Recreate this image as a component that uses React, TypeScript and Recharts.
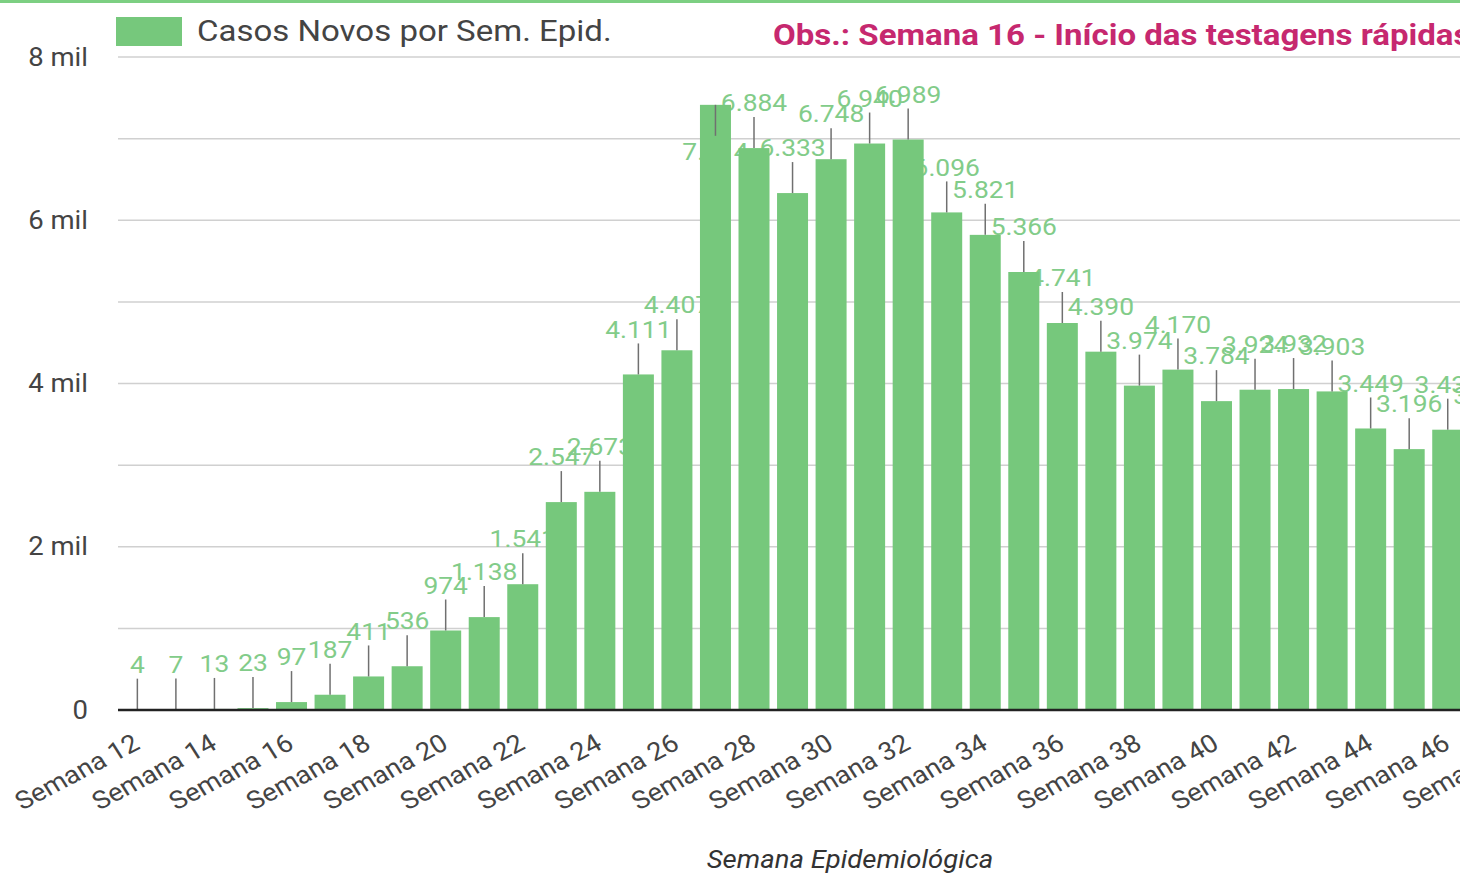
import React from 'react';
import { BarChart, Bar, XAxis, YAxis, CartesianGrid } from 'recharts';

const weeks = [
  'Semana 12', 'Semana 13', 'Semana 14', 'Semana 15', 'Semana 16', 'Semana 17', 'Semana 18',
  'Semana 19', 'Semana 20', 'Semana 21', 'Semana 22', 'Semana 23', 'Semana 24', 'Semana 25',
  'Semana 26', 'Semana 27', 'Semana 28', 'Semana 29', 'Semana 30', 'Semana 31', 'Semana 32',
  'Semana 33', 'Semana 34', 'Semana 35', 'Semana 36', 'Semana 37', 'Semana 38', 'Semana 39',
  'Semana 40', 'Semana 41', 'Semana 42', 'Semana 43', 'Semana 44', 'Semana 45', 'Semana 46',
  'Semana 47', 'Semana 48',
];

const newCases = [
  4, 7, 13, 23, 97, 187, 411,
  536, 974, 1138, 1541, 2547, 2673, 4111,
  4407, 7414, 6884, 6333, 6748, 6940, 6989,
  6096, 5821, 5366, 4741, 4390, 3974, 4170,
  3784, 3924, 3932, 3903, 3449, 3196, 3434,
  3300, 3100,
];

const yTicks = [0, 1000, 2000, 3000, 4000, 5000, 6000, 7000, 8000];

const seriesName = 'Casos Novos por Sem. Epid.';
const noteText = 'Obs.: Semana 16 - Início das testagens rápidas';
const xTitle = 'Semana Epidemiológica';

const data = weeks.map((w, i) => ({ week: w, cases: newCases[i] }));

const FONT = 'Roboto, "Noto Sans", sans-serif';
const BAR_COLOR = '#76c87c';
const LABEL_COLOR = '#82cc89';
const LEADER_COLOR = '#707070';
const PLOT_TOP = 57;
const LABEL_RISE = 45;
const LEADER_LEN = 31;
const SX = 1.1;

const fmt = (v: number) => {
  const s = String(Math.round(v));
  return s.replace(/\B(?=(\d{3})+(?!\d))/g, '.');
};

const yFmt = (v: number) => {
  if (v === 0) return '0';
  if (v % 2000 !== 0) return '';
  return `${v / 1000} mil`;
};

const flipped = (top: number) => top - LABEL_RISE - 12 < PLOT_TOP;

const LabelShape = (props: any) => {
  const { x, y, width, payload } = props;
  const cx = x + width / 2;
  const cy = flipped(y) ? y + LABEL_RISE + 2 : y - LABEL_RISE;
  return (
    <g transform={`translate(${cx},${cy}) scale(${SX},1)`}>
      <text
        x={0}
        y={0}
        textAnchor="middle"
        dominantBaseline="central"
        fontSize={24}
        fontFamily={FONT}
        fill={LABEL_COLOR}
      >
        {fmt(payload.cases)}
      </text>
    </g>
  );
};

const BarShape = (props: any) => {
  const { x, y, width, height, fill } = props;
  const cx = x + width / 2;
  const end = flipped(y) ? y + LEADER_LEN : y - LEADER_LEN;
  return (
    <g>
      <rect x={x} y={y} width={width} height={Math.max(height, 0)} fill={fill} />
      <line x1={cx} y1={y} x2={cx} y2={end} stroke={LEADER_COLOR} strokeWidth={1.5} />
    </g>
  );
};

const XTick = (props: any) => {
  const { x, y, payload } = props;
  return (
    <g transform={`translate(${x + 4},${y + 30}) scale(${SX},1)`}>
      <text
        x={0}
        y={0}
        textAnchor="end"
        transform="rotate(-30)"
        fontSize={25}
        fontFamily={FONT}
        fill="#444"
      >
        {payload.value}
      </text>
    </g>
  );
};

const YTick = (props: any) => {
  const { x, y, payload } = props;
  const label = yFmt(payload.value);
  if (!label) return null;
  return (
    <g transform={`translate(${x},${y}) scale(${SX},1)`}>
      <text x={0} y={0} textAnchor="end" dominantBaseline="central" fontSize={25} fontFamily={FONT} fill="#444">
        {label}
      </text>
    </g>
  );
};

export default function App() {
  return (
    <div
      style={{
        position: 'absolute',
        left: 0,
        top: 0,
        width: 1460,
        height: 878,
        overflow: 'hidden',
        background: '#fff',
        fontFamily: FONT,
      }}
    >
      <div style={{ position: 'absolute', left: 0, top: 0, width: 1460, height: 3, background: '#7ccf82' }} />
      <BarChart
        width={1560}
        height={878}
        data={data}
        margin={{ top: PLOT_TOP, right: 16, bottom: 48, left: 0 }}
        barCategoryGap="10%"
      >
        <CartesianGrid vertical={false} stroke="#d0d0d0" strokeWidth={1.5} xAxisId="main" />
        <XAxis
          xAxisId="main"
          dataKey="week"
          interval={1}
          tickLine={false}
          tickSize={0}
          tickMargin={8}
          axisLine={{ stroke: '#222', strokeWidth: 2.5 }}
          height={120}
          tick={<XTick />}
        />
        <XAxis xAxisId="lbl" dataKey="week" hide orientation="top" height={0} />
        <YAxis
          domain={[0, 8000]}
          ticks={yTicks}
          interval={0}
          width={118}
          axisLine={false}
          tickLine={false}
          tickSize={0}
          tickMargin={30}
          tick={<YTick />}
        />
        <Bar xAxisId="lbl" dataKey="cases" shape={LabelShape} isAnimationActive={false} />
        <Bar xAxisId="main" dataKey="cases" fill={BAR_COLOR} shape={BarShape} isAnimationActive={false} />
      </BarChart>
      <div
        style={{
          position: 'absolute',
          left: 116,
          top: 17,
          width: 66,
          height: 29,
          background: BAR_COLOR,
        }}
      />
      <div
        style={{
          position: 'absolute',
          left: 197,
          top: 11,
          fontSize: 30,
          lineHeight: '40px',
          color: '#444',
          whiteSpace: 'nowrap',
          transform: `scaleX(${SX})`,
          transformOrigin: 'left center',
        }}
      >
        {seriesName}
      </div>
      <div
        style={{
          position: 'absolute',
          left: 773,
          top: 15,
          fontSize: 30,
          lineHeight: '40px',
          fontWeight: 700,
          color: '#c6286f',
          whiteSpace: 'nowrap',
          transform: `scaleX(${SX})`,
          transformOrigin: 'left center',
        }}
      >
        {noteText}
      </div>
      <div
        style={{
          position: 'absolute',
          left: 550,
          width: 600,
          top: 845,
          textAlign: 'center',
          fontSize: 25,
          fontStyle: 'italic',
          color: '#333',
          whiteSpace: 'nowrap',
          transform: `scaleX(${SX})`,
          transformOrigin: '300px center',
        }}
      >
        {xTitle}
      </div>
    </div>
  );
}
